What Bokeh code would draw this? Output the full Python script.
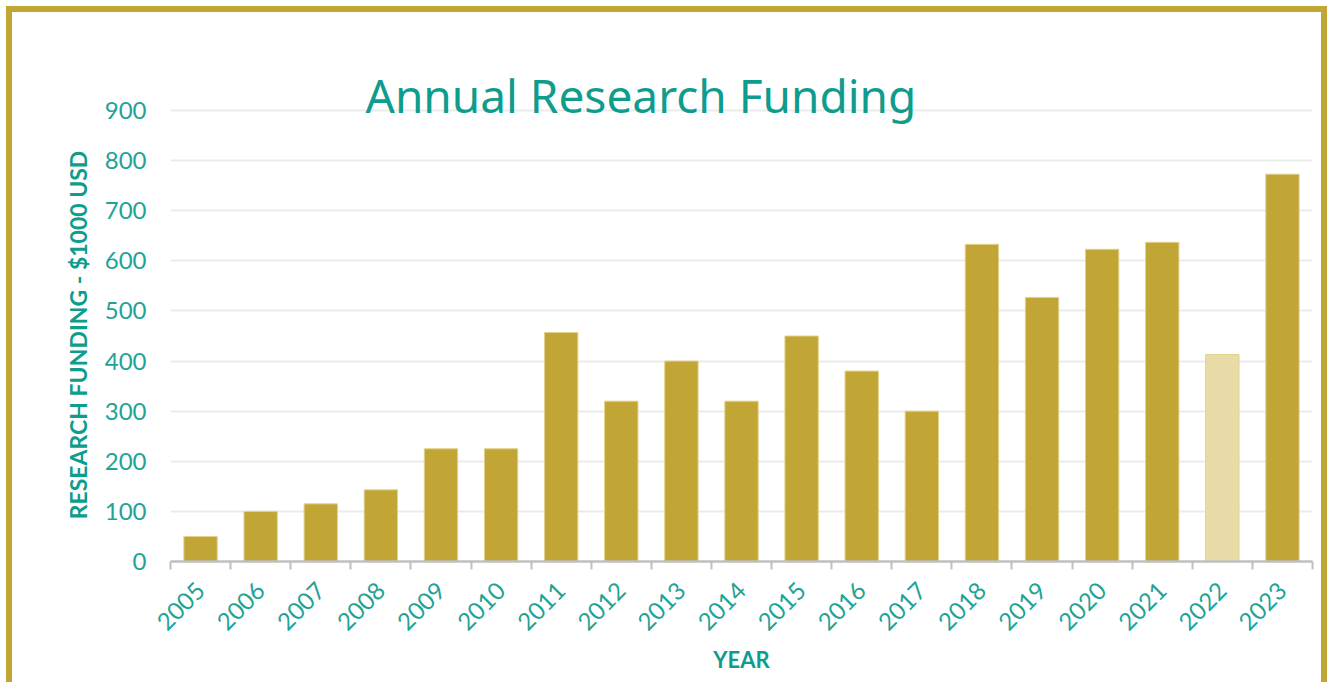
import math
from bokeh.plotting import figure
from bokeh.models import FixedTicker, ColumnDataSource, Range1d
from bokeh.embed import file_html
from bokeh.resources import INLINE

# ---- data ----
years = ["2005", "2006", "2007", "2008", "2009", "2010", "2011", "2012", "2013", "2014",
         "2015", "2016", "2017", "2018", "2019", "2020", "2021", "2022", "2023"]
funding = [50, 100, 115, 143, 225, 225, 457, 320, 400, 320,
           450, 380, 300, 633, 527, 623, 637, 413, 773]
highlight_year = "2022"
y_ticks = [0, 100, 200, 300, 400, 500, 600, 700, 800, 900]

title_text = "Annual Research Funding"
y_title = "RESEARCH FUNDING - $1000 USD"
x_title = "YEAR"

# ---- styles ----
GOLD = "#C1A535"
GOLD_LIGHT = "#E8DBA8"
TEAL = "#0E9C8D"
TEAL_LABEL = "#1FA396"
FONT = "Lato"

centers = [i + 0.5 for i in range(len(years))]
bounds = [float(i) for i in range(len(years) + 1)]
colors = [GOLD_LIGHT if y == highlight_year else GOLD for y in years]
src = ColumnDataSource(dict(x=centers, top=funding, color=colors, year=years))

p = figure(width=1327, height=682,
           x_range=Range1d(0, len(years)), y_range=Range1d(0, 904),
           output_backend="svg", toolbar_location=None,
           min_border_left=170, min_border_right=15,
           min_border_top=108, min_border_bottom=121)
g = "linear-gradient(#C1A535, #C1A535)"
p.styles = {
    "background-color": "white",
    "background-image": f"{g}, {g}, {g}",
    "background-position": "6px 6px, 6px 6px, right 0px top 6px",
    "background-size": "6px 100%, 100% 6px, 6px 100%",
    "background-repeat": "no-repeat",
}
p.outline_line_color = None
p.background_fill_color = "white"
p.border_fill_color = None

p.vbar(x="x", top="top", width=0.555, fill_color="color",
       line_color="#E2D28E", line_width=1, source=src)

# title overlapping the top of the plot area
p.title.text = title_text
p.title.align = "left"
p.title.offset = 195
p.title.standoff = -34
p.title.vertical_align = "bottom"
p.title.text_font = "Noto Sans"
p.title.text_font_size = "46px"
p.title.text_font_style = "normal"
p.title.text_color = TEAL

# grid
p.xgrid.grid_line_color = None
p.ygrid.grid_line_color = "#EBEBEB"
p.ygrid.grid_line_width = 2

# y axis
p.yaxis.ticker = FixedTicker(ticks=y_ticks)
p.yaxis.axis_line_color = None
p.yaxis.major_tick_line_color = None
p.yaxis.minor_tick_line_color = None
p.yaxis.major_tick_out = 0
p.yaxis.major_tick_in = 0
p.yaxis.major_label_standoff = 24
p.yaxis.major_label_text_font = FONT
p.yaxis.major_label_text_font_size = "24px"
p.yaxis.major_label_text_color = TEAL_LABEL
p.yaxis.axis_label = y_title
p.yaxis.axis_label_text_font = FONT
p.yaxis.axis_label_text_font_style = "bold"
p.yaxis.axis_label_text_font_size = "23px"
p.yaxis.axis_label_text_color = TEAL
p.yaxis.axis_label_standoff = 10

# x axis
p.xaxis.ticker = FixedTicker(ticks=centers, minor_ticks=bounds)
p.xaxis.major_label_overrides = {c: y for c, y in zip(centers, years)}
p.xaxis.major_tick_line_color = None
p.xaxis.major_tick_out = 0
p.xaxis.major_tick_in = 0
p.xaxis.minor_tick_line_color = "#BFBFBF"
p.xaxis.minor_tick_line_width = 2
p.xaxis.minor_tick_out = 8
p.xaxis.minor_tick_in = 0
p.xaxis.axis_line_color = "#BFBFBF"
p.xaxis.axis_line_width = 2.5
p.xaxis.major_label_orientation = math.pi / 4
p.xaxis.major_label_standoff = 17
p.xaxis.major_label_text_font = FONT
p.xaxis.major_label_text_font_size = "24px"
p.xaxis.major_label_text_color = TEAL_LABEL
p.xaxis.axis_label = x_title
p.xaxis.axis_label_text_font = FONT
p.xaxis.axis_label_text_font_style = "bold"
p.xaxis.axis_label_text_font_size = "22px"
p.xaxis.axis_label_text_color = TEAL
p.xaxis.axis_label_standoff = 5

open("out.html", "w").write(file_html(p, INLINE))
